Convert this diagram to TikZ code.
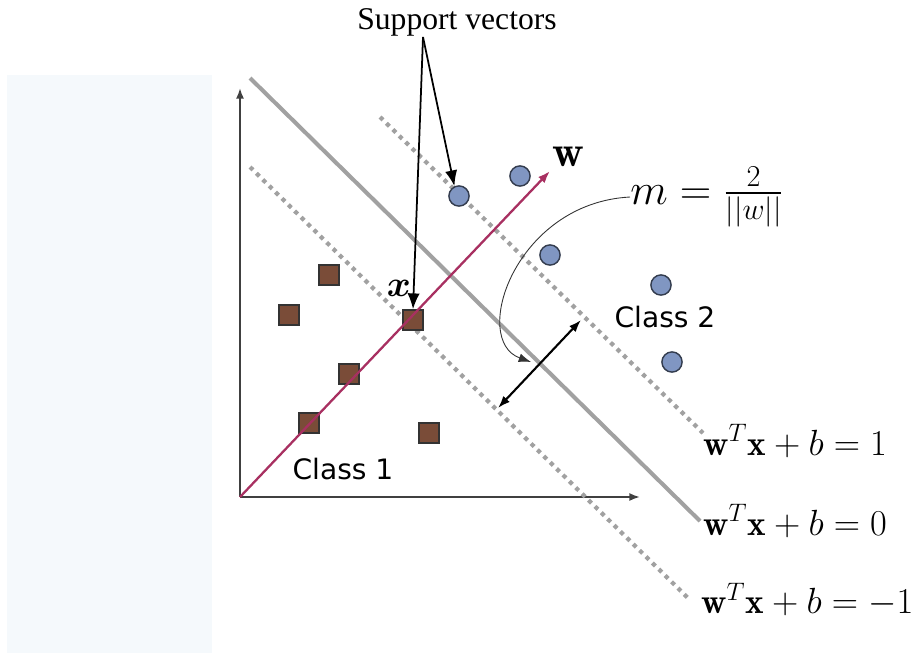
\documentclass[tikz,border=0pt]{standalone}
\usepackage{amsmath, amssymb}
\usepackage{fontspec}
\newfontfamily\classfont{DejaVu Sans}
\newfontfamily\timesfont{Liberation Serif}
\usepackage{tikz}
\usetikzlibrary{arrows.meta}
\definecolor{PanelBlue}{rgb}{0.96, 0.975, 0.99}
\definecolor{WPurple}{rgb}{0.66, 0.19, 0.38}
\definecolor{PointBlue}{rgb}{0.5, 0.59, 0.76}
\definecolor{PointBrown}{rgb}{0.48, 0.3, 0.22}
\definecolor{PlaneGray}{rgb}{0.63, 0.63, 0.63}

\tikzset{
    classone/.style = {draw = black!80, fill = PointBrown, minimum size = 11.5pt, inner sep = 0pt, line width = 0.8pt},
    classtwo/.style = {circle, draw = black!60!PointBlue, fill = PointBlue, minimum size = 11.5pt, inner sep = 0pt, line width = 0.8pt},
    margin/.style = {PlaneGray, line width = 2.4pt, dash pattern = on 2.4pt off 2.7pt},
    plane/.style = {PlaneGray, line width = 2.3pt},
    eqn/.style = {anchor = west, inner sep = 0pt, font = \fontsize{20}{24}\selectfont}
}

\begin{document}
\begin{tikzpicture}[x = 0.02cm, y = -0.02cm]
                                \useasboundingbox (0,0) rectangle (912,657);
                                \fill[PanelBlue] (7,75) rectangle (212,653);

                                % axes
                                \coordinate (o) at (240,497);
                                \coordinate (ytop) at (240,88);
                                \coordinate (xend) at (640,497);
                                \draw[-{Latex[length=6pt, width=4.5pt]}, line width = 1pt, color = black!75] (o) -- (ytop);
                                \draw[-{Latex[length=6pt, width=4.5pt]}, line width = 1pt, color = black!75] (o) -- (xend);

                                % hyperplane and margins
                                \coordinate (pa) at (250,78);
                                \coordinate (pb) at (700,521);
                                \coordinate (ua) at (380,117);
                                \coordinate (ub) at (703,433);
                                \coordinate (la) at (250,167);
                                \coordinate (lb) at (688,598);
                                \draw[plane] (pa) -- (pb);
                                \draw[margin] (ua) -- (ub);
                                \draw[margin] (la) -- (lb);

                                % class 1
                                \node[classone] (s1) at (329,275) {};
                                \node[classone] (s2) at (289,315) {};
                                \node[classone] (s3) at (413,320) {};
                                \node[classone] (s4) at (349,374) {};
                                \node[classone] (s5) at (309,423) {};
                                \node[classone] (s6) at (429,433) {};

                                % class 2
                                \node[classtwo] (c1) at (459,196) {};
                                \node[classtwo] (c2) at (520,176) {};
                                \node[classtwo] (c3) at (550,255) {};
                                \node[classtwo] (c4) at (661,285) {};
                                \node[classtwo] (c5) at (672,362) {};

                                % normal vector
                                \coordinate (wtip) at (550,171);
                                \draw[-{Latex[length=7pt, width=5pt]}, line width = 1.3pt, color = WPurple] (o) -- (wtip);
                                \node[anchor = west, inner sep = 0pt, font = \fontsize{25}{30}\selectfont] (wlab) at (552,157) {$\mathbf{w}$};
                                \node[inner sep = 0pt, font = \fontsize{21}{25}\selectfont] (xlab) at (399,288) {$\boldsymbol{x}$};

                                % support vectors
                                \node[font = \fontsize{18}{22}\selectfont] (sv) at (457,22) {\timesfont Support vectors};
                                \coordinate (svtail) at (423,37);
                                \draw[-{Latex[length=9pt, width=7pt]}, line width = 1pt] (svtail) -- (s3.north);
                                \draw[-{Latex[length=9pt, width=7pt]}, line width = 1pt] (svtail) -- (c1.115);

                                % margin width
                                \coordinate (mlo) at (498,408);
                                \coordinate (mhi) at (581,320);
                                \draw[{Latex[length=7pt, width=5pt]}-{Latex[length=7pt, width=5pt]}, line width = 1.2pt] (mlo) -- (mhi);
                                \node[anchor = west, inner sep = 0pt, font = \fontsize{23}{27}\selectfont] (m) at (630,197) {$m = \tfrac{2}{||w||}$};
                                \coordinate (mend) at (531,362);
                                \draw[-{Latex[length=7pt, width=5pt]}, line width = 0.5pt, color = black!80] (m.west) .. controls (515,203) and (470,340) .. (mend);

                                % labels
                                \node[font = \fontsize{16}{19}\selectfont] (cl1) at (343,469) {\classfont Class 1};
                                \node[font = \fontsize{16}{19}\selectfont] (cl2) at (665,317) {\classfont Class 2};
                                \node[eqn] (e1) at (703,441) {$\mathbf{w}^T\mathbf{x} + b = 1$};
                                \node[eqn] (e0) at (703,521) {$\mathbf{w}^T\mathbf{x} + b = 0$};
                                \node[eqn] (em) at (701,600) {$\mathbf{w}^T\mathbf{x} + b = -1$};
                            \end{tikzpicture}
\end{document}
